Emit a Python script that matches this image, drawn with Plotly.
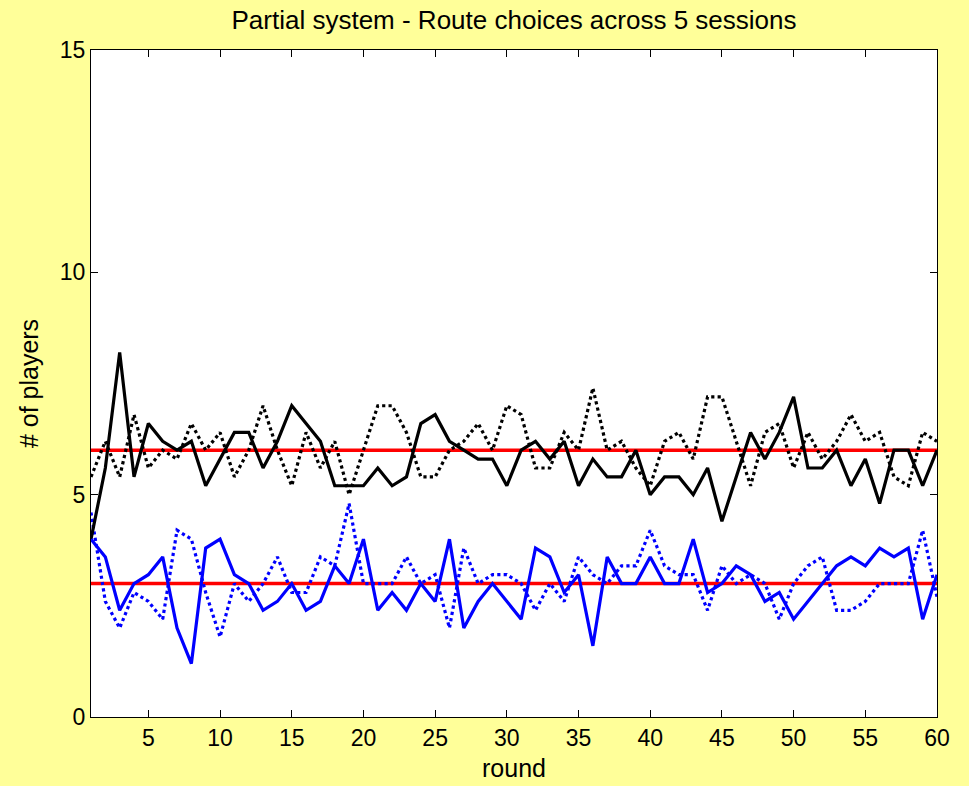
import plotly.graph_objects as go

rounds = list(range(1, 61))

# Upper route: session-average players per round (solid) and comparison run (dotted)
upper_solid = [4.0, 5.6, 8.2, 5.4, 6.6, 6.2, 6.0, 6.2, 5.2, 5.8,
               6.4, 6.4, 5.6, 6.2, 7.0, 6.6, 6.2, 5.2, 5.2, 5.2,
               5.6, 5.2, 5.4, 6.6, 6.8, 6.2, 6.0, 5.8, 5.8, 5.2,
               6.0, 6.2, 5.8, 6.2, 5.2, 5.8, 5.4, 5.4, 6.0, 5.0,
               5.4, 5.4, 5.0, 5.6, 4.4, 5.4, 6.4, 5.8, 6.4, 7.2,
               5.6, 5.6, 6.0, 5.2, 5.8, 4.8, 6.0, 6.0, 5.2, 6.0]
upper_dotted = [5.4, 6.2, 5.4, 6.8, 5.6, 6.0, 5.8, 6.6, 6.0, 6.4,
                5.4, 6.0, 7.0, 6.0, 5.2, 6.4, 5.6, 6.2, 5.0, 6.0,
                7.0, 7.0, 6.4, 5.4, 5.4, 6.0, 6.2, 6.6, 6.0, 7.0,
                6.8, 5.6, 5.6, 6.4, 6.0, 7.4, 6.0, 6.2, 5.6, 5.2,
                6.2, 6.4, 5.8, 7.2, 7.2, 6.2, 5.2, 6.4, 6.6, 5.6,
                6.4, 5.8, 6.2, 6.8, 6.2, 6.4, 5.4, 5.2, 6.4, 6.2]

# Lower route
lower_solid = [4.0, 3.6, 2.4, 3.0, 3.2, 3.6, 2.0, 1.2, 3.8, 4.0,
               3.2, 3.0, 2.4, 2.6, 3.0, 2.4, 2.6, 3.4, 3.0, 4.0,
               2.4, 2.8, 2.4, 3.0, 2.6, 4.0, 2.0, 2.6, 3.0, 2.6,
               2.2, 3.8, 3.6, 2.8, 3.2, 1.6, 3.6, 3.0, 3.0, 3.6,
               3.0, 3.0, 4.0, 2.8, 3.0, 3.4, 3.2, 2.6, 2.8, 2.2,
               2.6, 3.0, 3.4, 3.6, 3.4, 3.8, 3.6, 3.8, 2.2, 3.2]
lower_dotted = [4.6, 2.6, 2.0, 2.8, 2.6, 2.2, 4.2, 4.0, 2.8, 1.8,
                3.0, 2.6, 3.0, 3.6, 2.8, 2.8, 3.6, 3.4, 4.8, 3.0,
                3.0, 3.0, 3.6, 3.0, 3.2, 2.0, 3.8, 3.0, 3.2, 3.2,
                3.0, 2.4, 3.0, 2.6, 3.6, 3.2, 3.0, 3.4, 3.4, 4.2,
                3.4, 3.2, 3.2, 2.4, 3.4, 3.0, 3.2, 3.0, 2.2, 3.0,
                3.4, 3.6, 2.4, 2.4, 2.6, 3.0, 3.0, 3.0, 4.2, 2.7]

# Equilibrium reference levels
equilibrium_levels = [6, 3]

x_ticks = [5, 10, 15, 20, 25, 30, 35, 40, 45, 50, 55, 60]
y_ticks = [0, 5, 10, 15]

FONT = "Liberation Sans, Arial, sans-serif"

fig = go.Figure()

for level in equilibrium_levels:
    fig.add_trace(go.Scatter(x=[rounds[0], rounds[-1]], y=[level, level], mode="lines",
                             line=dict(color="#ff0000", width=3.5), showlegend=False,
                             hoverinfo="skip"))

series = [
    (upper_dotted, "black", "dot"),
    (lower_dotted, "#0000ff", "dot"),
    (upper_solid, "black", "solid"),
    (lower_solid, "#0000ff", "solid"),
]
for ys, color, dash in series:
    fig.add_trace(go.Scatter(x=rounds, y=ys, mode="lines",
                             line=dict(color=color, width=3.2, dash=dash),
                             showlegend=False))

tick_font = dict(family=FONT, size=23, color="black")
label_font = dict(family=FONT, size=25, color="black")

fig.update_layout(
    width=969, height=786,
    paper_bgcolor="#ffff99",
    plot_bgcolor="white",
    margin=dict(l=91, r=32, t=50, b=69),
    title=dict(text="Partial system - Route choices across 5 sessions",
               x=0.5, xref="paper", xanchor="center", y=0.975, yanchor="middle",
               font=dict(family=FONT, size=26, color="black")),
    font=tick_font,
)
fig.update_xaxes(range=[1, 60], tickvals=x_ticks, ticks="inside", ticklen=7,
                 tickcolor="black", showline=True, linecolor="black", linewidth=1,
                 mirror="ticks", showgrid=False, zeroline=False, tickfont=tick_font,
                 automargin=False,
                 title=dict(text="round", font=label_font, standoff=9))
fig.update_yaxes(range=[0, 15], tickvals=y_ticks, ticks="inside", ticklen=7,
                 tickcolor="black", showline=True, linecolor="black", linewidth=1,
                 mirror="ticks", showgrid=False, zeroline=False, tickfont=tick_font,
                 automargin=False,
                 title=dict(text="# of players", font=label_font, standoff=14))

fig.write_html("out.html")
